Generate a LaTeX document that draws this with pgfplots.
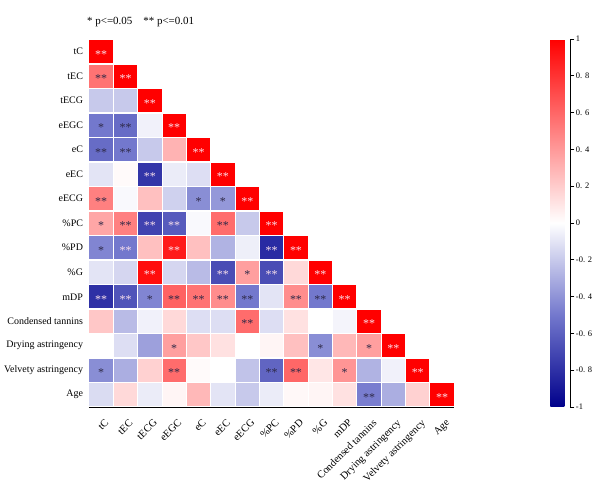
\documentclass[border=0pt]{standalone}
\usepackage{pgfplots}
\usepackage{pgfplotstable}
\pgfplotsset{compat=1.18}
\usepackage{fontspec}
\setmainfont{Liberation Serif}

\pgfplotstableread{
c r v
0 0 1
0 1 0.55
1 1 1
0 2 -0.2
1 2 -0.2
2 2 1
0 3 -0.5
1 3 -0.55
2 3 -0.05
3 3 1
0 4 -0.55
1 4 -0.5
2 4 -0.2
3 4 0.3
4 4 1
0 5 -0.1
1 5 0.02
2 5 -0.78
3 5 -0.07
4 5 -0.12
5 5 1
0 6 0.5
1 6 -0.02
2 6 0.25
3 6 -0.17
4 6 -0.42
5 6 -0.38
6 6 1
0 7 0.35
1 7 0.5
2 7 -0.72
3 7 -0.62
4 7 -0.02
5 7 0.58
6 7 -0.2
7 7 1
0 8 -0.45
1 8 -0.5
2 8 0.25
3 8 0.9
4 8 0.25
5 8 -0.28
6 8 -0.06
7 8 -0.82
8 8 1
0 9 -0.1
1 9 -0.15
2 9 0.95
3 9 -0.15
4 9 -0.25
5 9 -0.68
6 9 0.38
7 9 -0.68
8 9 0.15
9 9 1
0 10 -0.8
1 10 -0.65
2 10 -0.45
3 10 0.62
4 10 0.55
5 10 0.45
6 10 -0.5
7 10 -0.1
8 10 0.45
9 10 -0.5
10 10 1
0 11 0.22
1 11 -0.25
2 11 -0.05
3 11 0.15
4 11 -0.12
5 11 -0.12
6 11 0.58
7 11 -0.12
8 11 0.12
9 11 0.0
10 11 -0.04
11 11 1
0 12 0.0
1 12 -0.12
2 12 -0.35
3 12 0.38
4 12 0.22
5 12 0.12
6 12 0.0
7 12 0.04
8 12 0.25
9 12 -0.42
10 12 0.28
11 12 0.38
12 12 1
0 13 -0.42
1 13 -0.3
2 13 0.18
3 13 0.58
4 13 0.02
5 13 0.0
6 13 -0.22
7 13 -0.58
8 13 0.6
9 13 0.1
10 13 0.42
11 13 -0.28
12 13 -0.05
13 13 1
0 14 -0.13
1 14 0.15
2 14 -0.07
3 14 0.04
4 14 0.28
5 14 -0.1
6 14 -0.2
7 14 -0.07
8 14 0.03
9 14 0.04
10 14 0.12
11 14 -0.48
12 14 -0.3
13 14 0.18
14 14 1
}\corr

\definecolor{lightstar}{RGB}{250,225,235}
\definecolor{darkstar}{RGB}{45,40,70}

\begin{document}
\begin{tikzpicture}
\path[use as bounding box] (-89bp,-85bp) rectangle (526bp,407bp);
\begin{axis}[
  at={(0,0)}, anchor=south west,
  scale only axis,
  x=24.35bp, y=24.5bp,
  xmin=-0.5, xmax=14.5, ymin=-0.5, ymax=14.5,
  axis x line*=bottom, axis y line*=left,
  axis line style={-, black, line width=0.9bp},
  axis on top,
  clip=false,
  xtick={0,...,14}, ytick={0,...,14},
  major tick length=0pt,
  xticklabels={tC,tEC,tECG,eEGC,eC,eEC,eECG,\%PC,\%PD,\%G,mDP,Condensed tannins,Drying astringency,Velvety astringency,Age},
  yticklabels={Age,Velvety astringency,Drying astringency,Condensed tannins,mDP,\%G,\%PD,\%PC,eECG,eEC,eC,eEGC,tECG,tEC,tC},
  xticklabel style={xshift=3bp, yshift=-10bp, rotate=45, anchor=north east, inner sep=1bp, font=\fontsize{10.5}{12}\selectfont},
  yticklabel style={font=\fontsize{10}{12}\selectfont, xshift=-2.5bp},
  colormap={bwr}{rgb255(0)=(0,0,139) rgb255(1)=(115,120,205) rgb255(2)=(255,255,255) rgb255(3)=(255,128,128) rgb255(4)=(255,0,0)},
  point meta min=-1, point meta max=1,
  colorbar,
  colorbar style={
    at={(parent axis.north east)}, anchor=north west, xshift=87.5bp, yshift=0.5bp,
    scale only axis, width=20bp, height=368bp,
    axis x line=none, axis y line*=right,
    axis line style={-, black, line width=0.8bp},
    ytick={-1,-0.8,-0.6,-0.4,-0.2,0,0.2,0.4,0.6,0.8,1},
    yticklabels={-1,-0. 8,-0. 6,-0. 4,-0. 2,0,0. 2,0. 4,0. 6,0. 8,1},
    ytick pos=right, yticklabel pos=right,
    tick align=outside, major tick length=4bp,
    tick style={black, line width=0.6bp},
    yticklabel style={font=\fontsize{8.5}{10}\selectfont, inner sep=1.5bp},
  },
]
\addplot[scatter, only marks, mark=square*, mark size=12.2bp, line width=1bp,
  point meta=explicit,
  scatter/use mapped color={draw=white, fill=mapped color}]
  table[x=c, y expr=14-\thisrow{r}, meta=v] {\corr};

% light asterisks
\addplot[draw=none, point meta=explicit symbolic, nodes near coords, nodes near coords align=center,
  every node near coord/.append style={text=lightstar, font=\fontsize{12}{12}\selectfont, anchor=center, yshift=-2.5bp}]
  coordinates {
  (0,14)[**] (1,13)[**] (2,12)[**] (3,11)[**] (4,10)[**] (5,9)[**] (6,8)[**] (7,7)[**]
  (8,6)[**] (9,5)[**] (10,4)[**] (11,3)[**] (12,2)[**] (13,1)[**] (14,0)[**]
  (2,9)[**] (2,7)[**] (3,7)[**] (1,6)[**] (3,6)[**] (7,6)[**] (2,5)[**] (5,5)[**] (7,5)[**]
  (0,4)[**] (1,4)[**]
  };
% dark asterisks
\addplot[draw=none, point meta=explicit symbolic, nodes near coords, nodes near coords align=center,
  every node near coord/.append style={text=darkstar, font=\fontsize{12}{12}\selectfont, anchor=center, yshift=-2.5bp}]
  coordinates {
  (0,13)[**] (1,11)[**] (0,10)[**] (1,10)[**] (0,8)[**] (1,7)[**] (5,7)[**] (3,4)[**] (4,4)[**]
  (5,4)[**] (6,4)[**] (8,4)[**] (9,4)[**] (6,3)[**] (3,1)[**] (7,1)[**] (8,1)[**] (11,0)[**]
  (0,11)[*] (4,8)[*] (5,8)[*] (0,7)[*] (0,6)[*] (6,5)[*] (2,4)[*] (3,2)[*] (9,2)[*] (11,2)[*]
  (0,1)[*] (10,1)[*]
  };
\end{axis}
\node[anchor=west, font=\fontsize{11}{12}\selectfont, inner sep=0pt] at (-2bp,385bp) {* p<=0.05\quad ** p<=0.01};
\end{tikzpicture}
\end{document}
